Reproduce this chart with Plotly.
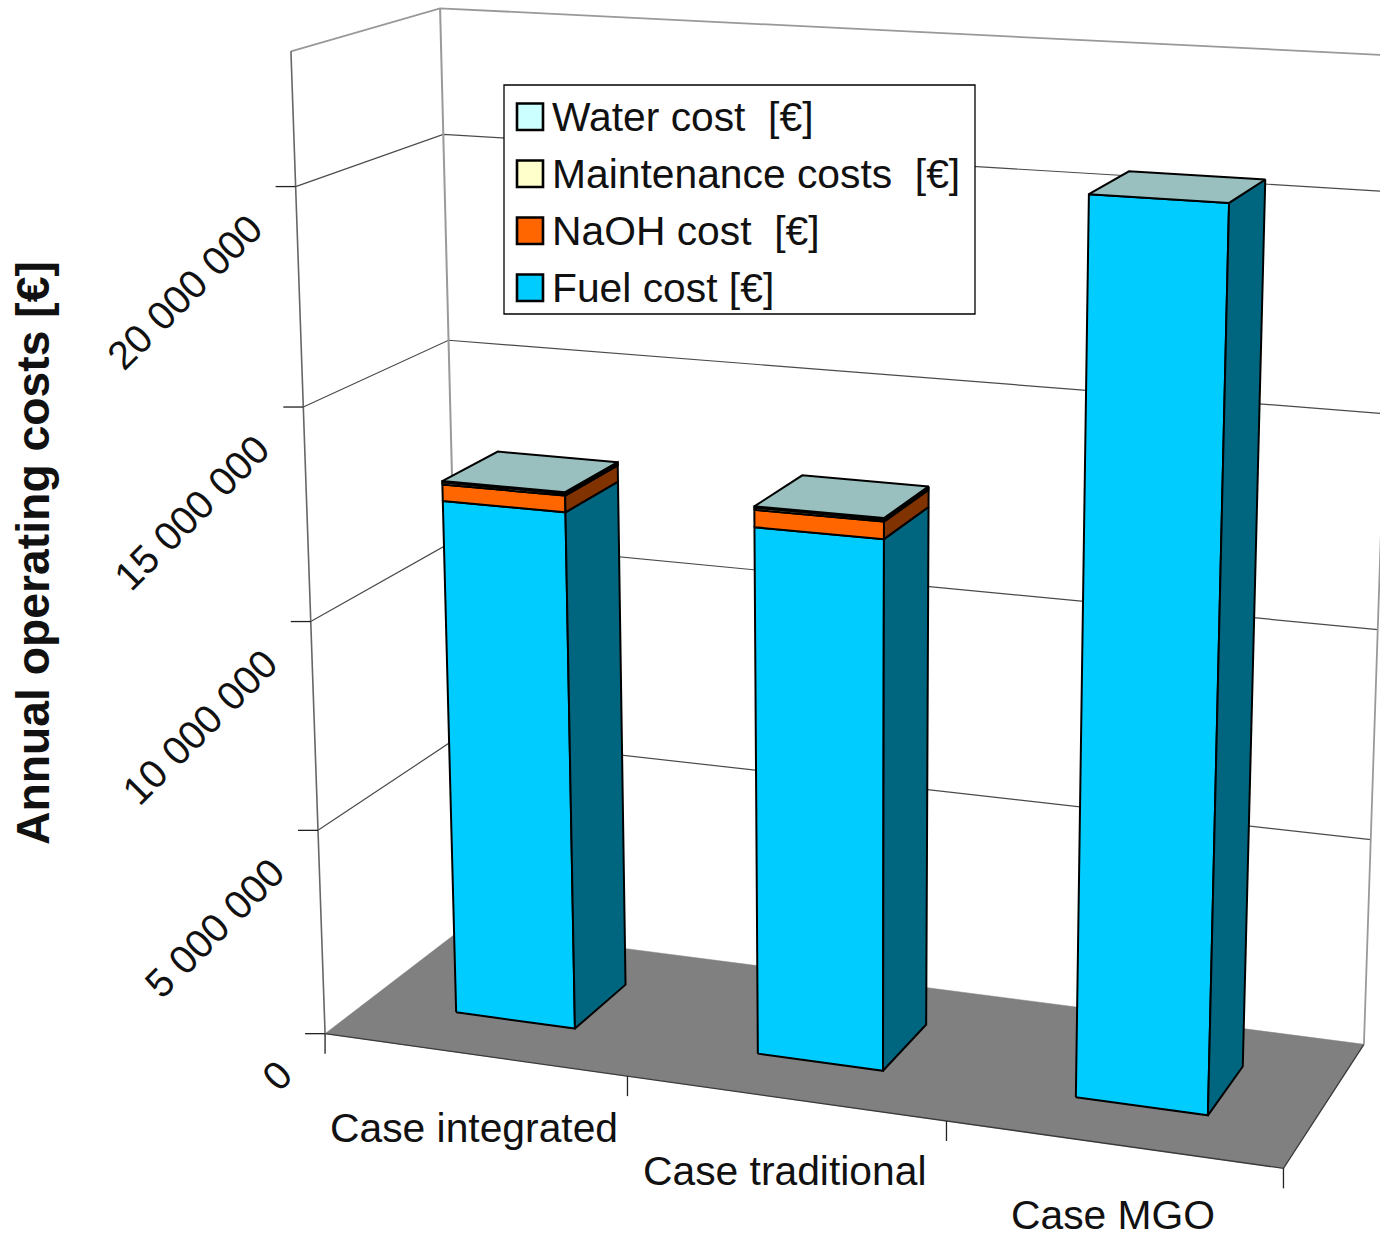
import numpy as np
import plotly.graph_objects as go

# Chart data
CATEGORIES = ["Case integrated", "Case traditional", "Case MGO"]
FUEL_COST = [12480000, 12540000, 20510000]
NAOH_COST = [390000, 400000, 0]
MAINTENANCE_COST = [50000, 50000, 0]
WATER_COST = [30000, 30000, 0]
VALUE_TICKS = [0, 5000000, 10000000, 15000000, 20000000]
VALUE_TOP = 23000000

W, H = 1380, 1236

# Camera calibration: (category, depth, value) of the plot box -> page position
BOX_WORLD = [
    (0, 0, 0), (1, 0, 0), (2, 0, 0), (3, 0, 0), (3, 1, 0), (0, 1, 0),
    (0, 0, 20e6), (0, 1, 20e6), (3, 1, 20e6),
    (0, 0, 23e6), (0, 1, 23e6), (3, 1, 23e6),
]
BOX_PAGE = [
    (325, 1034), (628, 1076), (947, 1121), (1283, 1168), (1364, 1045), (463, 927),
    (296, 187), (443, 135), (1392, 191),
    (290, 51), (441, 8), (1397, 56),
]


def solve_camera(world, page):
    rows = []
    for (u, v, w), (x, y) in zip(world, page):
        w = w / 1e7
        rows.append([u, v, w, 1, 0, 0, 0, 0, -x * u, -x * v, -x * w, -x])
        rows.append([0, 0, 0, 0, u, v, w, 1, -y * u, -y * v, -y * w, -y])
    return np.linalg.svd(np.array(rows, float))[2][-1].reshape(3, 4)


CAM = solve_camera(BOX_WORLD, BOX_PAGE)


def project(u, v, w):
    p = CAM @ np.array([u, v, w / 1e7, 1.0])
    return p[0] / p[2], p[1] / p[2]


fig = go.Figure()


def poly(faces, fill, line="#000000", width=2.0, name=""):
    xs, ys = [], []
    for face in faces:
        pts = [project(*p) for p in face]
        pts.append(pts[0])
        xs += [p[0] for p in pts] + [None]
        ys += [p[1] for p in pts] + [None]
    fig.add_trace(go.Scatter(x=xs, y=ys, mode="lines", fill="toself", fillcolor=fill,
                             line=dict(color=line, width=width), name=name,
                             hoverinfo="name", showlegend=False))


def polyline(points, color, width):
    pts = [project(*p) for p in points]
    fig.add_trace(go.Scatter(x=[p[0] for p in pts], y=[p[1] for p in pts], mode="lines",
                             line=dict(color=color, width=width), hoverinfo="skip",
                             showlegend=False))


# Floor
poly([[(0, 0, 0), (3, 0, 0), (3, 1, 0), (0, 1, 0)]], "#808080", line="#808080", width=0.5)
polyline([(0, 0, 0), (3, 0, 0), (3, 1, 0)], "#3a3a3a", 1.3)

# Gridlines on the side and back walls
for val in VALUE_TICKS[1:]:
    polyline([(0, 0, val), (0, 1, val), (3, 1, val)], "#4a4a4a", 1.2)
polyline([(0, 1, 0), (0, 1, VALUE_TOP)], "#9a9a9a", 2)
polyline([(0, 0, VALUE_TOP), (0, 1, VALUE_TOP), (3, 1, VALUE_TOP), (3, 1, 0)], "#999999", 1.8)
polyline([(0, 0, 0), (0, 0, VALUE_TOP)], "#666666", 1.6)

# Axis ticks
TICK_LEN = 20
for val in VALUE_TICKS:
    x, y = project(0, 0, val)
    fig.add_trace(go.Scatter(x=[x - TICK_LEN, x], y=[y, y], mode="lines",
                             line=dict(color="#222222", width=1.3), hoverinfo="skip", showlegend=False))
for i in range(len(CATEGORIES) + 1):
    x, y = project(i, 0, 0)
    fig.add_trace(go.Scatter(x=[x, x], y=[y, y + TICK_LEN], mode="lines",
                             line=dict(color="#222222", width=1.3), hoverinfo="skip", showlegend=False))

# Stacked columns
U0, U1, V0, V1 = 0.3, 0.7, 0.3, 0.7
SERIES = [
    ("Fuel cost [€]", FUEL_COST, "#00CCFF", "#006680"),
    ("NaOH cost [€]", NAOH_COST, "#FF6600", "#803300"),
    ("Maintenance costs [€]", MAINTENANCE_COST, "#FFFFCC", "#808066"),
    ("Water cost [€]", WATER_COST, "#CCFFFF", "#668080"),
]
base = [0.0] * len(CATEGORIES)
for name, values, front, side in SERIES:
    fronts, sides = [], []
    for i, val in enumerate(values):
        if val <= 0:
            continue
        lo, hi = base[i], base[i] + val
        a, b = i + U0, i + U1
        fronts.append([(a, V0, lo), (b, V0, lo), (b, V0, hi), (a, V0, hi)])
        sides.append([(b, V0, lo), (b, V1, lo), (b, V1, hi), (b, V0, hi)])
        base[i] = hi
    poly(fronts, front, name=name)
    poly(sides, side, name=name)

poly([[(i + U0, V0, t), (i + U1, V0, t), (i + U1, V1, t), (i + U0, V1, t)]
      for i, t in enumerate(base)], "#99BFBF", name="Water cost [€]")

annotations = []
FONT = "Liberation Sans, Arial, sans-serif"
TEXT_COLOR = "#111111"


def label(x, y, text, size=40.8, angle=0, anchor="center", bold=False):
    annotations.append(dict(x=x, y=y, xref="x", yref="y", text=f"<b>{text}</b>" if bold else text,
                            showarrow=False, textangle=angle, xanchor=anchor, yanchor="middle",
                            font=dict(family=FONT, size=size, color=TEXT_COLOR)))


def money(v):
    return f"{v:,}".replace(",", " ")


for val in VALUE_TICKS:
    text = money(val)
    half = max(18, 10.9 * len(text))
    x, y = project(0, 0, val)
    label(x - 35 - 0.7 * half, y + 29 + 0.7 * half, text, size=39.8, angle=-45)

CATEGORY_DROP = [73, 73, 71]
for i, cat in enumerate(CATEGORIES):
    x, y = project(i + 0.5, 0, 0)
    label(x, y + CATEGORY_DROP[i], cat)

label(33, 553, "Annual operating costs [€]", size=46.3, angle=-90, bold=True)

# Legend box
shapes = [dict(type="rect", x0=504, y0=85, x1=975, y1=314, xref="x", yref="y",
               fillcolor="#FFFFFF", line=dict(color="#000000", width=1.3), layer="above")]
LEGEND_ROWS = [
    ("Water cost&nbsp;&nbsp;[€]", "#CCFFFF", 116),
    ("Maintenance costs&nbsp;&nbsp;[€]", "#FFFFCC", 173),
    ("NaOH cost&nbsp;&nbsp;[€]", "#FF6600", 230),
    ("Fuel cost [€]", "#00CCFF", 287),
]
for text, color, yc in LEGEND_ROWS:
    shapes.append(dict(type="rect", x0=517, y0=yc - 12.5, x1=543, y1=yc + 14, xref="x", yref="y",
                       fillcolor=color, line=dict(color="#000000", width=2.6), layer="above"))
    label(550, yc + 1, text, anchor="left")

fig.update_layout(width=W, height=H, margin=dict(l=0, r=0, t=0, b=0), autosize=False,
                  paper_bgcolor="#FFFFFF", plot_bgcolor="#FFFFFF", showlegend=False,
                  xaxis=dict(range=[0, W], visible=False, fixedrange=True),
                  yaxis=dict(range=[H, 0], visible=False, fixedrange=True),
                  shapes=shapes, annotations=annotations)
fig.write_html("out.html")
